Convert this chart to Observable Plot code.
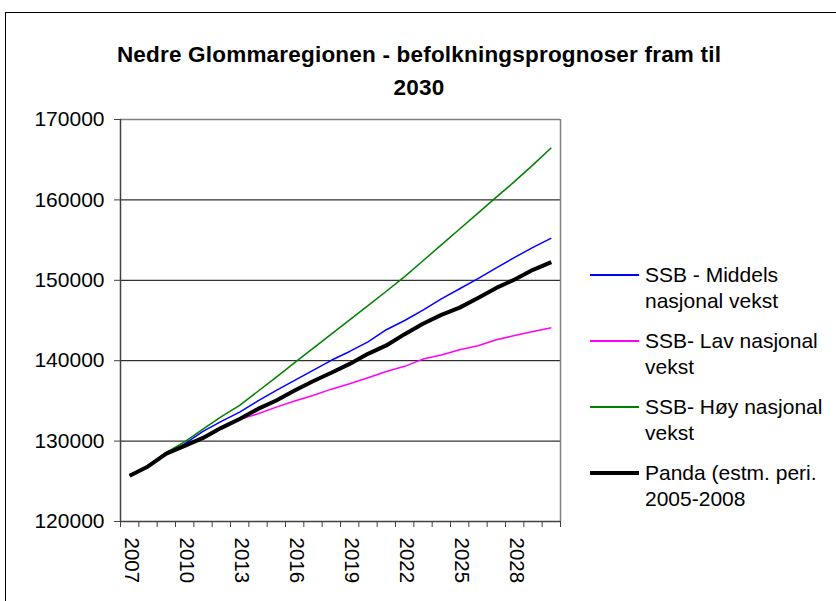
<!DOCTYPE html>
<html>
<head>
<meta charset="utf-8">
<script src="https://cdn.jsdelivr.net/npm/d3@7"></script>
<script src="https://cdn.jsdelivr.net/npm/@observablehq/plot@0.6"></script>
<style>
  html, body { margin: 0; padding: 0; background: #fff; }
  #wrap { position: relative; width: 836px; height: 601px; overflow: hidden; font-family: "Liberation Sans", Arial, sans-serif; }
  #border { position: absolute; left: 5px; top: 12px; width: 900px; height: 700px; border: 1.5px solid #000; box-sizing: border-box; }
  #title { position: absolute; left: 0; top: 38px; width: 838px; text-align: center; font-weight: bold; font-size: 22.5px; letter-spacing: 0.2px; line-height: 33px; color: #000; }
  #chart { position: absolute; left: 0; top: 105px; }
  .leg { position: absolute; left: 590px; font-size: 21px; line-height: 26px; color: #000; }
  .sw { position: absolute; left: 0; width: 49px; }
  .lt { position: absolute; left: 55px; white-space: nowrap; }
</style>
</head>
<body>
<div id="wrap">
  <div id="border"></div>
  <div id="title">Nedre Glommaregionen - befolkningsprognoser fram til<br>2030</div>
  <div id="chart"></div>
  <div id="legend"></div>
</div>
<script>
const years = [2007, 2008, 2009, 2010, 2011, 2012, 2013, 2014, 2015, 2016, 2017, 2018,
               2019, 2020, 2021, 2022, 2023, 2024, 2025, 2026, 2027, 2028, 2029, 2030];

const middels = [125700, 126900, 128500, 129650, 131200, 132450, 133600, 135000, 136300, 137550, 138800, 140050,
                 141150, 142350, 143850, 145000, 146300, 147700, 148950, 150200, 151550, 152850, 154100, 155250];
const lav     = [125700, 126900, 128500, 129400, 130250, 131550, 132700, 133400, 134230, 134980, 135670, 136460,
                 137130, 137870, 138660, 139300, 140200, 140700, 141350, 141850, 142600, 143130, 143630, 144100];
const hoy     = [125700, 126950, 128600, 129900, 131500, 133050, 134450, 136200, 137950, 139750, 141530, 143300,
                 145080, 146860, 148640, 150450, 152430, 154400, 156380, 158360, 160340, 162300, 164350, 166480];
const panda   = [125700, 126850, 128450, 129400, 130400, 131650, 132750, 134000, 135050, 136300, 137450, 138500,
                 139600, 140850, 141900, 143300, 144600, 145700, 146600, 147800, 149050, 150100, 151300, 152250];

const seriesNames = ["SSB - Middels nasjonal vekst", "SSB- Lav nasjonal vekst", "SSB- Høy nasjonal vekst", "Panda (estm. peri. 2005-2008"];
const legendLines = [["SSB - Middels", "nasjonal vekst"], ["SSB- Lav nasjonal", "vekst"], ["SSB- Høy nasjonal", "vekst"], ["Panda (estm. peri.", "2005-2008"]];
const seriesColors = ["#0000FF", "#FF00FF", "#008000", "#000000"];
const seriesWidths = [1.5, 1.5, 1.5, 4];
const seriesValues = [middels, lav, hoy, panda];

const yTicks = [120000, 130000, 140000, 150000, 160000, 170000];
const gridTicks = [130000, 140000, 150000, 160000];
const xLabelTicks = [2007, 2010, 2013, 2016, 2019, 2022, 2025, 2028];
const xBoundaryTicks = d3.range(2006.5, 2031, 1);

const rows = [];
seriesValues.forEach((vals, s) => {
  vals.forEach((v, i) => rows.push({ series: seriesNames[s], year: years[i], value: v }));
});

const xDomain = [2006.5, 2030.5];
const yDomain = [120000, 170000];

const lineMarks = seriesNames.map((name, s) =>
  Plot.lineY(rows.filter(r => r.series === name), {
    x: "year", y: "value", stroke: seriesColors[s], strokeWidth: seriesWidths[s], strokeLinejoin: "round", strokeLinecap: "butt"
  })
);

const chart = Plot.plot({
  width: 836,
  height: 496,
  marginLeft: 120,
  marginRight: 276,
  marginTop: 14,
  marginBottom: 80,
  style: { fontFamily: "'Liberation Sans', Arial, sans-serif", fontSize: "21px", color: "#000", background: "transparent", overflow: "visible" },
  x: { type: "linear", domain: xDomain },
  y: { domain: yDomain },
  marks: [
    Plot.ruleY(gridTicks, { stroke: "#000", strokeWidth: 1, strokeOpacity: 1 }),
    Plot.ruleY([yDomain[1]], { stroke: "#808080", strokeWidth: 1.5 }),
    Plot.ruleX([xDomain[1]], { stroke: "#808080", strokeWidth: 1.5 }),
    Plot.ruleX([xDomain[0]], { stroke: "#404040", strokeWidth: 1.5 }),
    Plot.ruleY([yDomain[0]], { stroke: "#404040", strokeWidth: 1.5 }),
    Plot.axisY({ ticks: yTicks, tickSize: 6, tickPadding: 10, tickFormat: d3.format("d"), fontSize: 21, stroke: "#404040", strokeOpacity: 1, label: null }),
    Plot.axisX({ ticks: xBoundaryTicks, tickSize: 6, tickFormat: () => "", stroke: "#404040", strokeOpacity: 1, label: null }),
    Plot.axisX({ ticks: xLabelTicks, tickSize: 0, tickPadding: 16, rotate: 90, textAnchor: "start", lineAnchor: "middle", fontSize: 20.5, dx: 1.5, tickFormat: d => String(d), label: null }),
    ...lineMarks
  ]
});
document.getElementById("chart").appendChild(chart);

const legend = document.getElementById("legend");
legendLines.forEach((lines, i) => {
  const item = document.createElement("div");
  item.className = "leg";
  item.style.top = (262 + i * 66) + "px";
  const sw = document.createElement("div");
  sw.className = "sw";
  const w = seriesWidths[i] >= 3 ? 4 : 2;
  sw.style.top = (13 - w / 2) + "px";
  sw.style.height = w + "px";
  sw.style.background = seriesColors[i];
  const t = document.createElement("div");
  t.className = "lt";
  t.innerHTML = lines.join("<br>");
  item.appendChild(sw);
  item.appendChild(t);
  legend.appendChild(item);
});
</script>
</body>
</html>
